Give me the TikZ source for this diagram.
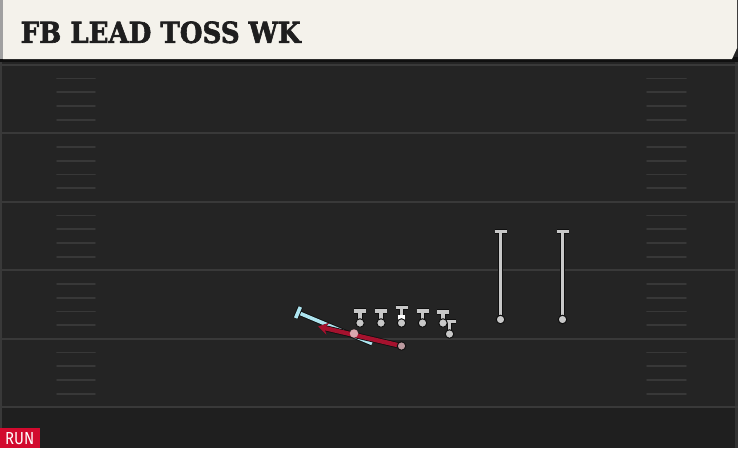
\documentclass[tikz,border=0pt]{standalone}
\usepackage{fontspec}
\usepackage{graphicx}
\usetikzlibrary{arrows.meta,calc}
\newfontfamily\titlefont{DejaVu Serif}[BoldFeatures={FakeBold=2.2}]
\newfontfamily\runfont{Fira Sans}
\definecolor{fieldbg}{HTML}{242424}
\definecolor{fieldlow}{HTML}{1F1F1F}
\definecolor{cream}{HTML}{F4F2EB}
\definecolor{titleink}{HTML}{1E1E1E}
\definecolor{yardc}{HTML}{393939}
\definecolor{hashc}{HTML}{383838}
\definecolor{edgec}{HTML}{333333}
\definecolor{leftstrip}{HTML}{A0A0A0}
\definecolor{plgray}{HTML}{C8C8C8}
\definecolor{outl}{HTML}{101010}
\definecolor{routeblue}{HTML}{AEE5F0}
\definecolor{routered}{HTML}{A5122E}
\definecolor{runred}{HTML}{D20A2E}
\definecolor{pinkdot}{HTML}{D9A7AE}
\definecolor{rbdot}{HTML}{BC9A9F}
\tikzset{
  yard/.style={draw=yardc, line width=2pt},
  hashm/.style={draw=hashc, line width=1.8pt, line cap=round},
  stem/.style={draw=plgray, line width=3.4pt, preaction={draw=outl, line width=5.4pt}},
  dot/.style={circle, fill=plgray, draw=outl, line width=1pt, inner sep=0pt, minimum size=8.5pt},
  blueroute/.style={draw=routeblue, line width=3.6pt, preaction={draw=outl, line width=5.4pt}},
  redroute/.style={draw=routered, line width=4.4pt, preaction={draw=outl, line width=6pt}},
}
\begin{document}
\begin{tikzpicture}[x=1pt,y=-1pt]
\useasboundingbox (0,0) rectangle (738,448);
% field
\fill[fieldbg] (0,0) rectangle (738,448);
\fill[fieldlow] (0,408) rectangle (738,448);
\fill[yardc] (0,60) rectangle (2,448);
\fill[edgec] (735,60) rectangle (738,448);
% yard lines and hashes
\foreach \Y in {64.8,133.3,201.8,270.3,338.8,407.3}{
  \draw[yard] (0,\Y) -- (738,\Y);
}
\foreach \Y in {64.8,133.3,201.8,270.3,338.8}{
  \foreach \j in {1,2,3,4}{
    \draw[hashm] (57,\Y+13.7*\j) -- (95,\Y+13.7*\j);
    \draw[hashm] (647,\Y+13.7*\j) -- (686,\Y+13.7*\j);
  }
}
% title bar
\fill[outl] (0,57) rectangle (738,62);
\fill[cream] (3,0) -- (737,0) -- (737,48) -- (732,59) -- (3,59) -- cycle;
\fill[leftstrip] (0,0) rectangle (3,59);
\node[anchor=south west, inner sep=0pt, text=titleink] (title) at (20.5,43.5)
  {\resizebox{280pt}{21.5pt}{\titlefont\bfseries FB LEAD TOSS WK}};
% coordinates
\coordinate (ltp) at (360,323);  \coordinate (ltT) at (360,311);
\coordinate (lgp) at (381,323);  \coordinate (lgT) at (381,311);
\coordinate (cp)  at (401.5,323); \coordinate (cT) at (401.5,307.5);
\coordinate (rgp) at (422.5,323); \coordinate (rgT) at (422.5,311);
\coordinate (rtp) at (443,323);  \coordinate (rtT) at (443,312);
\coordinate (tep) at (449.5,334); \coordinate (teT) at (449.5,321.5);
\coordinate (w1p) at (500.5,319.5); \coordinate (w1T) at (500.5,231.5);
\coordinate (w2p) at (562.5,319.5); \coordinate (w2T) at (562.5,231.5);
\coordinate (fbp) at (354,333.5);
\coordinate (rbp) at (401.5,346);
\coordinate (bstart) at (372,343.5);
\coordinate (bend) at (298,312.5);
\coordinate (rend) at (318,326.5);
% routes
\draw[blueroute] (bstart) -- (bend);
\draw[blueroute] ($(bend)!6pt!90:(bstart)$) -- ($(bend)!6pt!-90:(bstart)$);
\draw[redroute, -{Stealth[length=10pt,width=12pt,inset=3.5pt]}] (rbp) -- (rend);
% players
\foreach \p in {lt,lg,c,rg,rt,te,w1,w2}{
  \draw[stem] (\p p) -- (\p T) ++(-6,0) -- ++(12,0);
}
\fill[white] (398,314.5) rectangle (405,322);
\node[dot] (lt) at (ltp) {};
\node[dot] (lg) at (lgp) {};
\node[dot] (c)  at (cp)  {};
\node[dot] (rg) at (rgp) {};
\node[dot] (rt) at (rtp) {};
\node[dot] (te) at (tep) {};
\node[dot] (w1) at (w1p) {};
\node[dot] (w2) at (w2p) {};
\node[dot, fill=pinkdot, draw=none] (fb) at (fbp) {};
\node[dot, fill=rbdot, draw=outl] (rb) at (rbp) {};
% run tag
\fill[runred] (0,427.5) rectangle (40,448);
\node[anchor=south west, inner sep=0pt, text=white] (run) at (5,444.5)
  {\resizebox{29pt}{12pt}{\runfont RUN}};
\end{tikzpicture}
\end{document}
